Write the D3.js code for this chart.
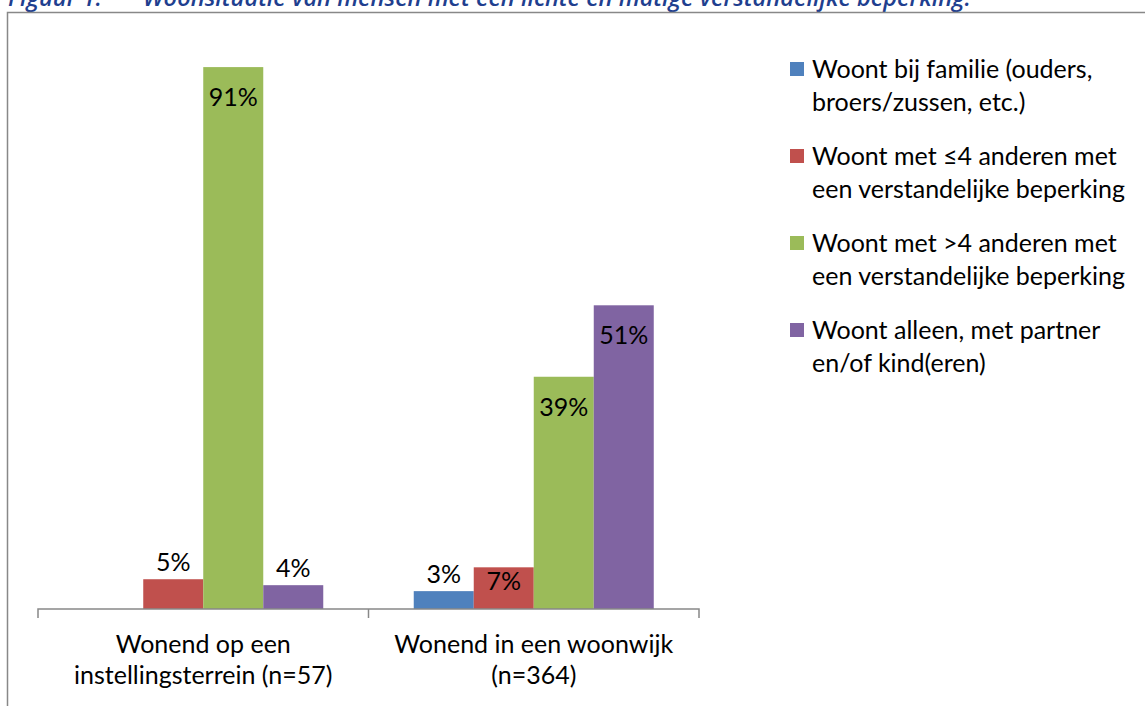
<!DOCTYPE html>
<html>
<head>
<meta charset="utf-8">
<script src="https://cdn.jsdelivr.net/npm/d3@7"></script>
<style>
  body { margin: 0; background: #fff; }
  svg text { font-family: Lato, "Open Sans", sans-serif; fill: #000; }
</style>
</head>
<body>
<svg id="chart" width="1145" height="706"></svg>
<script>
var categories = ["Wonend op een|instellingsterrein (n=57)", "Wonend in een woonwijk|(n=364)"];
var series = ["Woont bij familie (ouders,|broers/zussen, etc.)",
  "Woont met \u22644 anderen met|een verstandelijke beperking",
  "Woont met >4 anderen met|een verstandelijke beperking",
  "Woont alleen, met partner|en/of kind(eren)"];
var colors = ["#4f81bd", "#c0504d", "#9bbb59", "#8064a2"];
// percentages per category, in series order (null = no bar)
var values = [
  [null, 5, 91, 4],
  [3, 7, 39, 51]
];

var svg = d3.select("#chart");
var margin = {top: 13.5, left: 38, bottom: 97, right: 446},
  width = 1145 - margin.left - margin.right,
  height = 706 - margin.top - margin.bottom;

// title (partly cut off at top, as in the document)
var title = svg.append("text")
  .attr("x", 8).attr("y", 6)
  .style("font-family", "'Open Sans', sans-serif")
  .style("font-style", "italic")
  .style("font-weight", "600")
  .style("font-size", "23.6px")
  .style("fill", "#1f3f8f");
title.append("tspan").text("Figuur 1.");
title.append("tspan").attr("x", 143).text("Woonsituatie van mensen met een lichte en matige verstandelijke beperking.");

// frame
svg.append("path")
  .attr("d", "M7.5,706V12.5H1145")
  .attr("fill", "none").attr("stroke", "#888").attr("stroke-width", 1.5);

var g = svg.append("g").attr("transform", "translate(" + margin.left + "," + margin.top + ")");

var x0 = d3.scaleBand().domain(d3.range(categories.length)).range([0, width]);
var x1 = d3.scaleBand().domain(d3.range(series.length)).range([0, x0.bandwidth()]).paddingInner(0).paddingOuter(0.754);
var y = d3.scaleLinear().domain([0, 100]).range([height, 0]);

var groups = g.selectAll(".grp").data(values).enter().append("g")
  .attr("transform", function (d, i) { return "translate(" + x0(i) + ",0)"; });

var cells = groups.selectAll(".cell")
  .data(function (d) { return d.map(function (v, j) { return {v: v, s: j}; }).filter(function (e) { return e.v != null; }); })
  .enter().append("g");

cells.append("rect")
  .attr("x", function (d) { return x1(d.s); })
  .attr("width", x1.bandwidth())
  .attr("y", function (d) { return y(d.v); })
  .attr("height", function (d) { return height - y(d.v); })
  .attr("fill", function (d) { return colors[d.s]; });

cells.append("text")
  .attr("text-anchor", "middle")
  .style("font-size", "25px")
  .attr("x", function (d) { return x1(d.s) + x1.bandwidth() / 2; })
  .attr("y", function (d) {
    var h = height - y(d.v);
    if (h > 60) return y(d.v) + 39;
    if (h > 35) return y(d.v) + 23;
    return y(d.v) - 8;
  })
  .text(function (d) { return d.v + "%"; });

// x axis
var xAxis = g.append("g").attr("transform", "translate(0," + height + ")");
xAxis.append("path")
  .attr("d", "M0,9V0H" + width + "V9")
  .attr("fill", "none").attr("stroke", "#888").attr("stroke-width", 1.5);
xAxis.selectAll(".tick").data(d3.range(1, categories.length)).enter().append("line")
  .attr("x1", function (i) { return x0(i); }).attr("x2", function (i) { return x0(i); })
  .attr("y1", 0).attr("y2", 9)
  .attr("stroke", "#888").attr("stroke-width", 1.5);

xAxis.selectAll(".lbl").data(categories).enter().append("text")
  .attr("text-anchor", "middle")
  .style("font-size", "25px")
  .attr("transform", function (d, i) { return "translate(" + (x0(i) + x0.bandwidth() / 2) + ",44)"; })
  .selectAll("tspan").data(function (d) { return d.split("|"); }).enter().append("tspan")
  .attr("x", 0).attr("dy", function (d, i) { return i ? 31 : 0; })
  .text(function (d) { return d; });

// legend
var legend = svg.append("g").attr("transform", "translate(790,0)");
var items = legend.selectAll(".item").data(series).enter().append("g")
  .attr("transform", function (d, i) { return "translate(0," + (62 + i * 87) + ")"; });
items.append("rect").attr("x", 0).attr("y", 0).attr("width", 14).attr("height", 14)
  .attr("fill", function (d, i) { return colors[i]; });
items.append("text")
  .style("font-size", "25px")
  .attr("x", 22).attr("y", 16)
  .selectAll("tspan").data(function (d) { return d.split("|"); }).enter().append("tspan")
  .attr("x", 22).attr("dy", function (d, i) { return i ? 33 : 0; })
  .text(function (d) { return d; });
</script>
</body>
</html>
